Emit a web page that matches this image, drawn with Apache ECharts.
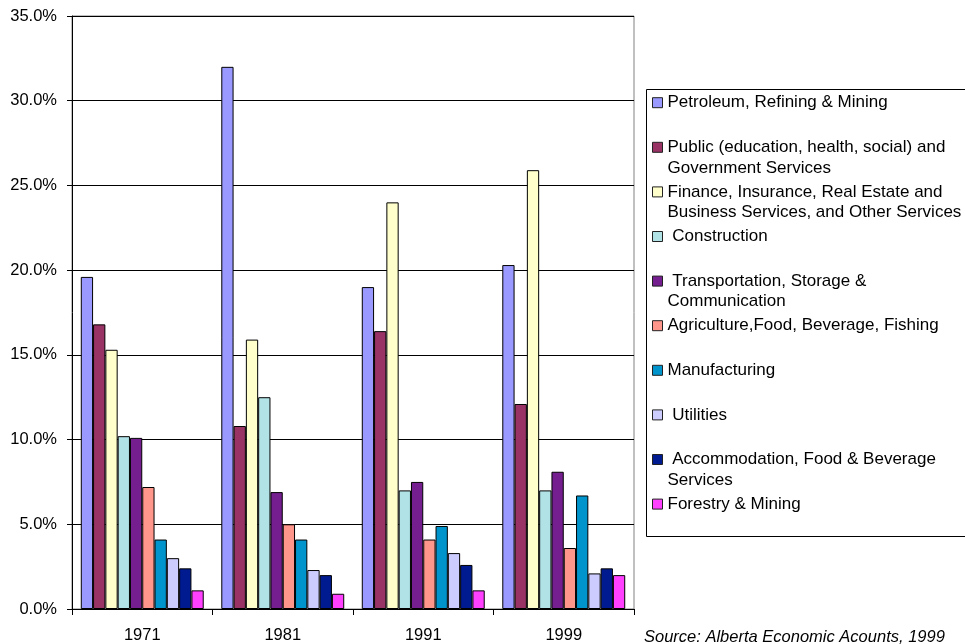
<!DOCTYPE html>
<html>
<head>
<meta charset="utf-8">
<script src="https://cdn.jsdelivr.net/npm/echarts@6/dist/echarts.min.js"></script>
<style>
  html, body { margin: 0; background: #fff; }
  #chart { width: 965px; height: 644px; }
</style>
</head>
<body>
<div id="chart"></div>
<script>
// years on the x axis
const years = ['1971', '1981', '1991', '1999'];

// share of GDP by sector, in percent
const petroleum     = [19.6, 32.0, 19.0, 20.3];
const publicSvc     = [16.8, 10.8, 16.4, 12.1];
const finance       = [15.3, 15.9, 24.0, 25.9];
const construction  = [10.2, 12.5, 7.0, 7.0];
const transport     = [10.1, 6.9, 7.5, 8.1];
const agriculture   = [7.2, 5.0, 4.1, 3.6];
const manufacturing = [4.1, 4.1, 4.9, 6.7];
const utilities     = [3.0, 2.3, 3.3, 2.1];
const accommodation = [2.4, 2.0, 2.6, 2.4];
const forestry      = [1.1, 0.9, 1.1, 2.0];

const seriesNames = [
    'Petroleum, Refining & Mining',
    'Public (education, health, social) and\nGovernment Services',
    'Finance, Insurance, Real Estate and\nBusiness Services, and Other Services',
    ' Construction',
    ' Transportation, Storage &\nCommunication',
    'Agriculture,Food, Beverage, Fishing',
    'Manufacturing',
    ' Utilities',
    ' Accommodation, Food & Beverage\nServices',
    'Forestry & Mining'
];
const seriesData = [petroleum, publicSvc, finance, construction, transport,
    agriculture, manufacturing, utilities, accommodation, forestry];
const colors = ['#9999FF', '#993366', '#FFFFCC', '#B0E2E6', '#751E8F',
    '#FF968C', '#0094CC', '#CCCCFF', '#001A8F', '#FF40FF'];

// y axis ticks
const yMax = 35;
const yStep = 5;

const font = 'Liberation Sans, Arial, sans-serif';
const lineH = 20.6;

// one legend per entry so the marker sits on the first text line
let legends = seriesNames.map((name, i) => {
    let twoLine = name.indexOf('\n') >= 0;
    let centre = 102.7 + i * 44.6;
    return {
        data: [name],
        orient: 'vertical',
        left: 652,
        top: centre - (twoLine ? 1.5 * lineH : 0.5 * lineH),
        padding: 0,
        selectedMode: false,
        icon: 'rect',
        itemWidth: 10,
        itemHeight: 10,
        itemStyle: { borderColor: '#222', borderWidth: 1 },
        // empty first line pushes the text down so line one lines up with the marker
        formatter: n => (n.indexOf('\n') >= 0 ? ' \n' + n : n),
        textStyle: {
            fontFamily: font,
            fontSize: 17,
            color: '#000',
            lineHeight: lineH
        }
    };
});

let option = {
    backgroundColor: '#fff',
    animation: false,
    color: colors,
    grid: {
        left: 72, right: 331, top: 16, bottom: 35,
        show: true, borderColor: '#808080', borderWidth: 1
    },
    legend: legends,
    xAxis: {
        type: 'category',
        data: years,
        axisLine: { lineStyle: { color: '#000', width: 1 } },
        axisTick: { show: true, length: 6, lineStyle: { color: '#000' } },
        axisLabel: { fontFamily: font, fontSize: 16.5, color: '#000', margin: 18 }
    },
    yAxis: {
        type: 'value',
        min: 0,
        max: yMax,
        interval: yStep,
        axisLine: { show: true, lineStyle: { color: '#000', width: 1 } },
        axisTick: { show: true, length: 5, lineStyle: { color: '#000' } },
        axisLabel: {
            fontFamily: font, fontSize: 16.5, color: '#000', margin: 15,
            formatter: v => v.toFixed(1) + '%'
        },
        splitLine: { lineStyle: { color: '#000', width: 1 } }
    },
    series: seriesNames.map((name, i) => ({
        name: name,
        type: 'bar',
        data: seriesData[i],
        barGap: '0%',
        barCategoryGap: '12.5%',
        itemStyle: { color: colors[i], borderColor: '#000', borderWidth: 1 }
    })),
    graphic: [
        {
            // legend frame
            type: 'rect',
            shape: { x: 646.5, y: 89.5, width: 340, height: 447 },
            style: { fill: 'none', stroke: '#000', lineWidth: 1 },
            z: 1
        },
        {
            type: 'text',
            left: 644,
            top: 629,
            style: {
                text: 'Source: Alberta Economic Acounts, 1999',
                font: 'italic 16.5px ' + font,
                fill: '#000'
            }
        }
    ]
};

echarts.init(document.getElementById('chart')).setOption(option);
</script>
</body>
</html>
